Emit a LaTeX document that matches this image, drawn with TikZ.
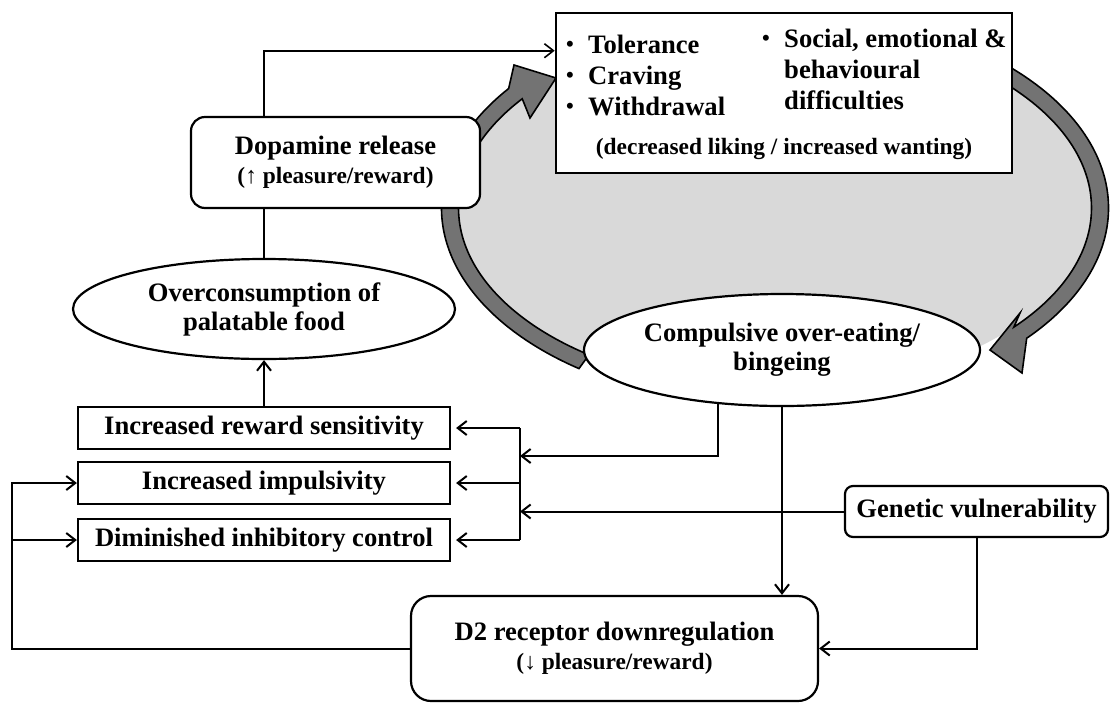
\documentclass[tikz,border=0pt]{standalone}
\usepackage{fontspec}
\setmainfont{Liberation Serif}
\usetikzlibrary{shapes.geometric}
\usetikzlibrary{arrows.meta}
\usetikzlibrary{calc}
\newcommand{\bigtxt}{\fontsize{26.6}{29}\selectfont\bfseries}
\newcommand{\smalltxt}{\fontsize{23.4}{29}\selectfont\bfseries}
\newcommand{\bul}[1]{\makebox[22pt][l]{\raisebox{1.5pt}{\fontsize{22}{22}\selectfont\textbullet}}#1}
\tikzset{
	box/.style={draw, line width=2.2pt, fill=white, align=center, inner sep=0pt, font=\bigtxt},
	rbox/.style={box, rounded corners=14pt},
	oval/.style={box, ellipse},
	txt/.style={inner sep=0pt, font=\bigtxt},
	link/.style={line width=2pt},
	arr/.style={link, -{Straight Barb[length=9pt,width=14pt]}},
	band/.style={fill=black!55, draw=black, line width=1.6pt},
}

\begin{document}
\begin{tikzpicture}[x=1pt, y=-1pt]
	\useasboundingbox (0,0) rectangle (1110,702);

	%the vicious circle behind everything
	\coordinate (C) at (775,208);
	\fill[black!15] (C) ellipse [x radius=316.5, y radius=181.5];
	%left arc, from bingeing up to the symptoms
	\filldraw[band] ($(C)+(126:333.5 and 198.5)$) arc[start angle=126, end angle=217, x radius=333.5, y radius=198.5]
		-- (514,65) -- (556,78) -- (530,118)
		-- ($(C)+(217:316.5 and 181.5)$) arc[start angle=217, end angle=126, x radius=316.5, y radius=181.5] -- cycle;
	%right arc, from the symptoms down to bingeing
	\filldraw[band] ($(C)+(-50:333.5 and 198.5)$) arc[start angle=-50, end angle=41, x radius=333.5, y radius=198.5]
		-- (1022,373) -- (990,350) -- (1020,313)
		-- ($(C)+(41:316.5 and 181.5)$) arc[start angle=41, end angle=-50, x radius=316.5, y radius=181.5] -- cycle;

	%symptoms box
	\node[box, line width=2.6pt, minimum width=456pt, minimum height=160pt] (sym) at (784,93) {};
	\node[txt, anchor=base west] (tol) at (566,53) {\bul{Tolerance}};
	\node[txt, anchor=base west] (crav) at (566,84) {\bul{Craving}};
	\node[txt, anchor=base west] (wdr) at (566,115) {\bul{Withdrawal}};
	\node[txt, anchor=base west] (soc) at (762,47) {\bul{Social, emotional \&}};
	\node[txt, anchor=base west] (beh) at (784,78) {behavioural};
	\node[txt, anchor=base west] (diff) at (784,109) {difficulties};
	\node[txt, anchor=base, font=\smalltxt] (want) at (784,154) {(decreased liking / increased wanting)};

	%nodes of the model
	\node[rbox, minimum width=289pt, minimum height=91pt] (dop) at (335.5,162.5) {Dopamine release\\{\smalltxt (↑ pleasure/reward)}};
	\node[oval, minimum width=382pt, minimum height=100pt] (over) at (264,309) {Overconsumption of\\palatable food};
	\node[oval, minimum width=396pt, minimum height=112pt] (comp) at (782,350) {Compulsive over-eating/\\bingeing};
	\node[box, minimum width=372pt, minimum height=42pt] (rew) at (264,428) {Increased reward sensitivity};
	\node[box, minimum width=372pt, minimum height=42pt] (imp) at (264,483) {Increased impulsivity};
	\node[box, minimum width=372pt, minimum height=42pt] (dim) at (264,540) {Diminished inhibitory control};
	\node[rbox, rounded corners=8pt, minimum width=263pt, minimum height=51pt] (gen) at (976.5,511.5) {Genetic vulnerability};
	\node[rbox, rounded corners=20pt, minimum width=407pt, minimum height=105pt] (d2) at (614.5,648.5) {D2 receptor downregulation\\{\smalltxt (↓ pleasure/reward)}};

	%joints of the connectors
	\coordinate (bus) at (520,456);
	\coordinate (lft) at (12,0);

	%connectors
	\draw[link, line width=1.6pt] (over.north) -- (over.north |- dop.south);
	\draw[arr, line width=1.6pt] (over.north |- dop.north) |- ([yshift=-39pt]sym.north west);
	\draw[arr] (rew.north) -- (over.south);
	\draw[link] (rew.east -| bus) -- (dim.east -| bus);
	\draw[arr, shorten >=5pt] (rew.east -| bus) -- (rew.east);
	\draw[arr, shorten >=5pt] (imp.east -| bus) -- (imp.east);
	\draw[arr, shorten >=5pt] (dim.east -| bus) -- (dim.east);
	\draw[arr] (comp.220.6) |- (bus);
	\draw[arr] (gen.west) -- (gen.west -| bus);
	\draw[arr] (comp.south) -- (comp.south |- d2.north);
	\draw[arr] (gen.south) |- (d2.east);
	\draw[arr] (d2.west) -| (lft |- imp.west) -- (imp.west);
	\draw[arr] (lft |- dim.west) -- (dim.west);

\end{tikzpicture}
\end{document}
